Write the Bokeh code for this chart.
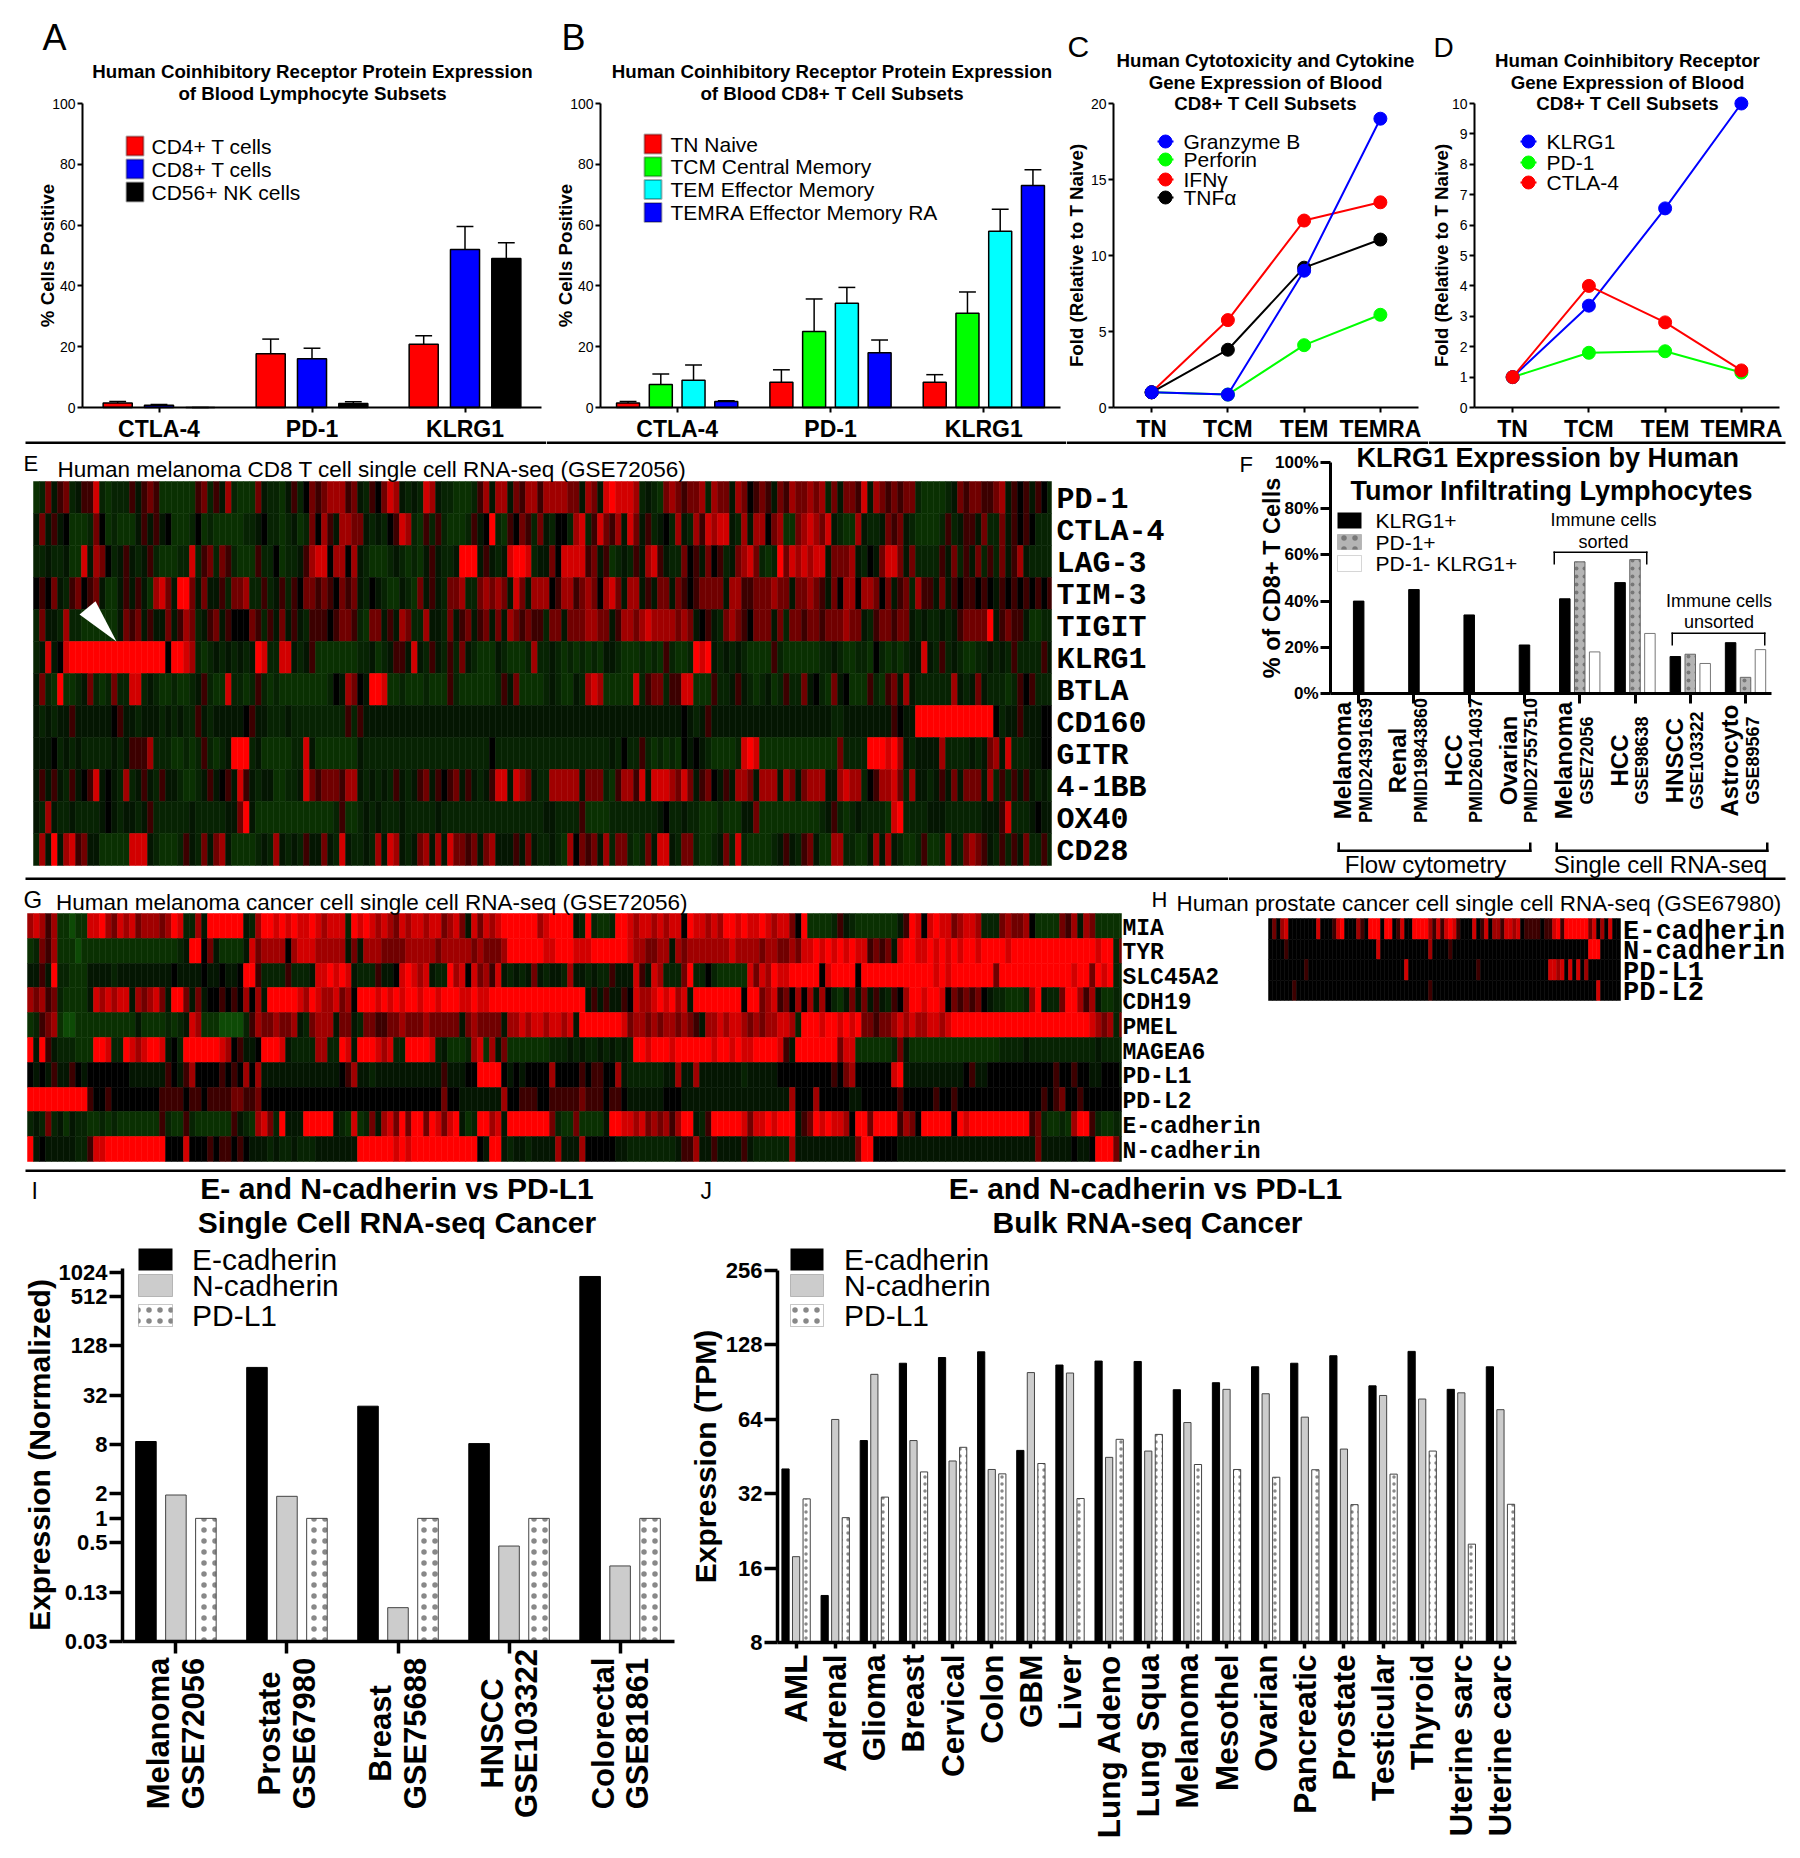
import math
from bokeh.embed import file_html
from bokeh.resources import INLINE
from bokeh.layouts import column, row
from bokeh.models import Range1d, FixedTicker, Label, BoxAnnotation
from bokeh.plotting import figure

# ---------- panel A ----------
a_groups = ["CTLA-4", "PD-1", "KLRG1"]
a_series = ["CD4+ T cells", "CD8+ T cells", "CD56+ NK cells"]
a_colors = ["#ff0000", "#0000ff", "#000000"]
a_values = [[1.5, 17.7, 20.8], [0.7, 16.0, 52.0], [0.0, 1.3, 49.0]]
a_errors = [[2.0, 22.5, 23.6], [1.0, 19.5, 59.5], [0.0, 1.9, 54.2]]
# ---------- panel B ----------
b_series = ["TN Naive", "TCM Central Memory", "TEM Effector Memory", "TEMRA Effector Memory RA"]
b_colors = ["#ff0000", "#00ff00", "#00ffff", "#0000ff"]
b_values = [[1.5, 8.3, 8.3], [7.6, 25.0, 31.0], [9.0, 34.3, 58.0], [2.0, 18.0, 73.0]]
b_errors = [[2.0, 12.4, 10.8], [11.0, 35.7, 38.0], [14.0, 39.5, 65.2], [2.2, 22.2, 78.2]]
# ---------- panels C, D ----------
subset_labels = ["TN", "TCM", "TEM", "TEMRA"]
c_granzyme = [1.0, 0.85, 9.0, 19.0]
c_perforin = [1.0, 0.85, 4.1, 6.1]
c_ifng = [1.0, 5.75, 12.3, 13.5]
c_tnfa = [1.0, 3.8, 9.2, 11.05]
d_klrg1 = [1.0, 3.35, 6.55, 10.0]
d_pd1 = [1.0, 1.8, 1.85, 1.15]
d_ctla4 = [1.0, 4.0, 2.8, 1.22]
# ---------- panel F ----------
f_main = ["Melanoma", "Renal", "HCC", "Ovarian", "Melanoma", "HCC", "HNSCC", "Astrocyto"]
f_sub = ["PMID24391639", "PMID19843860", "PMID26014037", "PMID27557510", "GSE72056", "GSE98638", "GSE103322", "GSE89567"]
f_flow_klrg1 = [40, 45, 34, 21]
f_rna_klrg1 = [41, 48, 16, 22]
f_rna_pd1 = [57, 58, 17, 7]
f_rna_neg = [18, 26, 13, 19]
# ---------- panel I ----------
i_main = ["Melanoma", "Prostate", "Breast", "HNSCC", "Colorectal"]
i_sub = ["GSE72056", "GSE67980", "GSE75688", "GSE103322", "GSE81861"]
i_ecad = [8.7, 70.0, 23.5, 8.2, 905.0]
i_ncad = [1.93, 1.86, 0.081, 0.459, 0.262]
i_pdl1 = [1.0, 1.0, 1.0, 1.0, 1.0]
i_ticks = [0.03125, 0.125, 0.5, 1, 2, 8, 32, 128, 512, 1024]
i_ticklabels = ["0.03", "0.13", "0.5", "1", "2", "8", "32", "128", "512", "1024"]
# ---------- panel J ----------
j_cats = ["AML", "Adrenal", "Glioma", "Breast", "Cervical", "Colon", "GBM", "Liver", "Lung Adeno", "Lung Squa",
          "Melanoma", "Mesothel", "Ovarian", "Pancreatic", "Prostate", "Testicular", "Thyroid", "Uterine sarc", "Uterine carc"]
j_ecad = [40.3, 12.4, 52.5, 107.9, 113.8, 120.0, 47.9, 106.1, 110.1, 109.7, 84.3, 90.0, 104.4, 107.9, 115.7, 87.4, 120.5, 84.6, 104.4]
j_ncad = [17.8, 63.9, 97.3, 52.5, 43.4, 40.1, 98.9, 98.5, 44.9, 47.6, 62.1, 84.6, 81.2, 65.3, 48.5, 79.9, 77.3, 81.9, 70.0]
j_pdl1 = [30.5, 25.6, 31.0, 39.2, 49.3, 38.5, 42.4, 30.6, 53.1, 55.6, 42.0, 40.1, 37.3, 40.0, 28.9, 38.4, 47.6, 20.0, 29.0]
j_ticks = [8, 16, 32, 64, 128, 256]
# ---------- heat maps: one digit per cell, 0 green ... 4 black ... 9 red ----------
heat_levels = ["#0e4a06", "#0a3002", "#072303", "#041602", "#000000", "#3c0000", "#700000", "#a00000", "#d20000", "#ff0000"]
e_labels = ["PD-1", "CTLA-4", "LAG-3", "TIM-3", "TIGIT", "KLRG1", "BTLA", "CD160", "GITR", "4-1BB", "OX40", "CD28"]
e_rows = [
 "1263562355 8212225356 5111111562 5372111632 2135246567 7756325468 7323287322 1112573773 6577577776 6376389888 7232167656 6727663764 5653657667 6726366583 7656566211 1123656655 6735453542",
 "3635341112 6412111353 5341112412 1111122342 2123126475 3776632324 5872152521 1125349215 4652632442 7825865738 6352342732 7587883273 7746711678 7683211732 2365632111 1252355362 2635454222",
 "2232231183 7642353235 2111228256 2652111522 4122357884 7747321112 3212135322 3999353238 9982336488 8856351232 5378532264 5364523678 6212968787 8836667324 3688636222 2536253625 2635732222",
 "4546325645 6311353531 7863996363 3526672252 3525466565 4656324321 1321635326 6722676763 8637774577 5676478637 7353663654 5666637755 6667663667 6536477477 6463562755 3635455454 3545454545",
 "2633272211 1111365635 3363576235 6354446525 3635325554 5665216635 3762273326 3563563637 6565526636 6677663577 6787777676 3453267654 6663626656 6566676632 5665663232 2323566669 3565531122",
 "2383489999 9999999999 9949987212 3232323982 2883235111 1111223123 5538325325 2632111321 1127223212 1212133211 1212152112 9893232321 1115211111 1223211221 4212123383 2523211223 2325222253",
 "3621911236 2126228823 2112112352 1182212521 2111111112 4376439981 1211121115 2111111253 6111123211 3278711111 8256625588 1115223532 1231252263 4216341115 2156373222 2227323632 2212545222",
 "3232335333 3334533233 3232322532 3333345332 2232222222 2252533333 3333333333 3333333333 3333333333 3333333333 3333333343 2353333333 3333333333 3332233333 3335433999 9999999999 4233533344",
 "3334232322 2223235557 2221121252 1239992311 1112283111 1111322222 2222222222 2222224222 2222222222 2222223242 2521212143 4321111289 8111111111 1111622229 9989732333 3722223236 7382223344",
 "3535325345 8343272353 2533211235 3453853233 1122386566 6577323232 5323563545 6353235883 8763227777 7366621577 5838887686 3564353776 3777376367 7733787724 5778627332 3536366637 2525353232",
 "3273223222 2343233235 2222223222 2233693111 1111111111 2511232322 2322222322 2222222222 2222233222 2511112222 2222342232 2111211133 6111111111 1235212322 2218922223 3322222233 3582223433",
 "2739378563 3111118883 2111253263 6731111232 7323253363 2832232738 7323673738 6656367333 5363223217 4656372662 1263883266 2112362821 1112353256 3117722113 7373211251 1273267653 2525362252",
]
g_labels = ["MIA", "TYR", "SLC45A2", "CDH19", "PMEL", "MAGEA6", "PD-L1", "PD-L2", "E-cadherin", "N-cadherin"]
g_rows = [
 "7875711011 8897687867 7767982273 9999993279 9898988987 8882989878 7687887886 7863868789 9999978999 9329211299 8788787884 9887879989 8898788649 1111253211 1111135984 8988678872 2267667411 1165737611 111",
 "1265711101 1111111111 1111123994 6311113867 7774788877 7773637776 6667777767 7777676667 9999998899 9888999999 8776677376 7777777877 7767766768 8989898988 5656389988 9898989989 9998999999 9999999989 926",
 "3353922111 3333233333 3333433334 3343349952 2225222388 9898322253 3489878322 9784867583 2323632332 7332322533 3853872226 9224211111 8687988999 9948999949 9999999999 9898999999 9699999999 9999899698 922",
 "7675621111 3878788376 7863996363 4454547473 9999987987 7867499989 8989989989 9988988999 9999999999 9993535335 4877898978 3999999994 9967856474 7374213636 3532547998 9984656564 3221112793 2269975731 122",
 "1256710011 1111111131 1112123871 1100002576 6766732677 7366326655 6676667666 6636766663 7787887887 8399999998 6776767767 6537787887 6767788729 9989989896 6566787877 8878999999 9999999999 9999999876 726",
 "9395322211 1998229878 9983429999 9987453349 9983222277 2298399987 8229999823 1112781736 1111111222 3232232323 2998999899 9999899898 8999985399 9999968811 1111263111 1111111111 1122223222 2222222232 222",
 "4343533543 4444444333 3335435744 4454547473 3333333333 3345733233 3333333335 3334499994 3434444744 4454554473 2222223373 3733333332 3333344444 4444546744 4444893333 3333334533 4444444444 4544544334 443",
 "9999999999 5445444444 4455554554 5555665564 4444444444 4444444444 4444444446 4433333337 4455544555 5565554554 3333334443 3333333333 3333333744 4744444334 4444454444 4544544444 4444444445 4564454444 444",
 "2326231322 1121211111 1152115211 1111532178 6293339999 9321812637 8696996986 8931299783 9999999621 1611113998 8786767579 9325999998 6889899935 6989887499 6999957649 9999498999 9999999562 1121799521 122",
 "9343333322 5889999999 9994448444 5455454333 2322322233 3333399999 9898999999 9999943993 2332333373 3374444433 2222222235 5733533335 3222222733 3333333369 9444433333 3333333333 3333333363 3333433499 963",
]
h_labels = ["E-cadherin", "N-cadherin", "PD-L1", "PD-L2"]
h_rows = [
 "46478444 44448444 58944475 49994994 58449999 75858985 44484584 77588784 55554558 95999999 68474844",
 "44445444 44444444 44444444 44484444 44444444 74444544 44444444 44444444 44444444 44444444 99944444",
 "44444444 45444444 44444444 44444444 44844444 44444444 44445444 44444444 44444488 78484847 44444444",
 "44444454 44444444 44444444 44444444 44444444 54444444 44444444 44444444 44444444 44444444 44844444",
]

FONT = "Liberation Sans"
MONO = "Liberation Mono"
RULE_X0, RULE_X1 = 25, 1785


class Panel:
    """A figure whose frame fills its whole canvas; axes sit at fixed data locations inside."""

    def __init__(self, X0, Y0, X1, Y1, fl=None, fr=None, ft=None, fb=None, xr=None, yr=None, log=False, rule=None):
        self.X0, self.X1 = X0, X1
        self.fl, self.fr = (X0 if fl is None else fl), (X1 if fr is None else fr)
        self.ft, self.fb = (Y0 if ft is None else ft), (Y1 if fb is None else fb)
        self.xr = xr or (X0, X1)
        self.yr = yr or (Y1, Y0)
        self.log = log
        kw = {}
        if fl is None:
            kw = dict(x_axis_type=None, y_axis_type=None)
        elif log:
            kw = dict(y_axis_type="log")
        self.p = figure(width=X1 - X0, height=Y1 - Y0, x_range=Range1d(self.dx(X0), self.dx(X1)),
                        y_range=Range1d(self.dy(Y1), self.dy(Y0)), min_border=0, frame_align=False,
                        toolbar_location=None, output_backend="svg", **kw)
        self.p.outline_line_color = None
        self.p.background_fill_color = "white"
        if fl is not None:
            self.p.grid.visible = False
        if rule:
            self.box(max(X0, RULE_X0), rule, min(X1, RULE_X1), rule + 3)

    def dx(self, X):
        return self.xr[0] + (X - self.fl) / (self.fr - self.fl) * (self.xr[1] - self.xr[0])

    def dy(self, Y):
        t = (self.fb - Y) / (self.fb - self.ft)
        if self.log:
            a, b = math.log2(self.yr[0]), math.log2(self.yr[1])
            return 2 ** (a + t * (b - a))
        return self.yr[0] + t * (self.yr[1] - self.yr[0])

    def text(self, X, Y, s, size, bold=False, align="left", angle=0, font=FONT, color="#000000", data_x=None):
        self.p.add_layout(Label(x=self.dx(X) if data_x is None else data_x, y=self.dy(Y), text=s, text_font=font,
                                text_font_size=f"{size}px", text_font_style="bold" if bold else "normal",
                                text_align=align, text_baseline="middle", angle=angle, text_color=color))

    def box(self, X0, Y0, X1, Y1, fill="#000000", line=None, lw=1, hatch=None, hatch_color="#888888"):
        kw = dict(left=self.dx(X0), right=self.dx(X1), bottom=self.dy(Y1), top=self.dy(Y0),
                  fill_color=fill, fill_alpha=1, line_color=line, line_width=lw, level="overlay")
        if hatch:
            kw.update(hatch_pattern=hatch, hatch_color=hatch_color, hatch_scale=11, hatch_weight=1.2)
        self.p.add_layout(BoxAnnotation(**kw))

    def axes(self, xlabels, yticks, ylabel, ylsize, tick_bold=False, tick_size=14, xsize=23, lw=2, out=5,
             standoff=1, yticklabels=None, x_orient=None, x_out=None, x_standoff=3, x_left=None):
        p = self.p
        xa, ya = p.xaxis[0], p.yaxis[0]
        xa.fixed_location = self.yr[0]
        ya.fixed_location = self.xr[0]
        xa.bounds = (self.dx(self.fl if x_left is None else x_left), self.xr[1])
        ya.bounds = (self.yr[0], self.yr[1])
        xa.ticker = FixedTicker(ticks=list(range(len(xlabels))))
        xa.major_label_overrides = {i: s for i, s in enumerate(xlabels)}
        ya.ticker = FixedTicker(ticks=list(yticks))
        if yticklabels:
            ya.major_label_overrides = {t: s for t, s in zip(yticks, yticklabels)}
        for ax in (xa, ya):
            ax.axis_line_width = lw
            ax.axis_line_color = "#000000"
            ax.major_tick_line_width = lw
            ax.major_tick_line_color = "#000000"
            ax.minor_tick_line_color = None
            ax.major_tick_in = 0
            ax.major_tick_out = out
            ax.major_label_text_color = "#000000"
            ax.major_label_text_font = FONT
        xa.major_tick_out = x_out or out
        xa.major_label_text_font_size = f"{xsize}px"
        xa.major_label_text_font_style = "bold"
        xa.major_label_standoff = x_standoff
        ya.major_label_text_font_size = f"{tick_size}px"
        ya.major_label_text_font_style = "bold" if tick_bold else "normal"
        ya.major_label_standoff = 2
        ya.axis_label = ylabel
        ya.axis_label_text_font = FONT
        ya.axis_label_text_font_style = "bold"
        ya.axis_label_text_font_size = f"{ylsize}px"
        ya.axis_label_text_color = "#000000"
        ya.axis_label_standoff = standoff
        if x_orient:
            xa.major_label_orientation = x_orient


def grouped(P, n, values, errors, colors, step, width, cap):
    k = len(values)
    for s, (vals, errs, col) in enumerate(zip(values, errors, colors)):
        xs = [g + (s - (k - 1) / 2) * step for g in range(n)]
        P.p.segment(xs, vals, xs, errs, line_color="#000000", line_width=1.5)
        P.p.segment([x - cap for x in xs], errs, [x + cap for x in xs], errs, line_color="#000000", line_width=1.5)
        P.p.vbar(x=xs, top=vals, width=width, bottom=0, fill_color=col, line_color="#000000", line_width=1.5)


def legend_boxes(P, X0, X1, tx, rows, size):
    for (y0, y1, label, kw) in rows:
        P.box(X0, y0, X1, y1, **kw)
        P.text(tx, (y0 + y1) / 2, label, size)


TITLE = 18.7
# ======= row 1 =======
A = Panel(0, 0, 546, 444, 82, 541, 103, 407, (-0.5, 2.5), (0, 100), rule=441)
grouped(A, 3, a_values, a_errors, a_colors, 0.27, 0.19, 0.055)
A.axes(a_groups, range(0, 101, 20), "% Cells Positive", 18.7, standoff=-9)
A.text(42, 37, "A", 36)
A.text(312, 71, "Human Coinhibitory Receptor Protein Expression", TITLE, True, "center")
A.text(312, 93, "of Blood Lymphocyte Subsets", TITLE, True, "center")
legend_boxes(A, 126, 143, 151, [(136 + 23 * i, 155 + 23 * i, s, dict(fill=c, line="#000000", lw=2))
                                for i, (s, c) in enumerate(zip(a_series, a_colors))], 21)

B = Panel(546, 0, 1066, 444, 600, 1060, 103, 407, (-0.5, 2.5), (0, 100), rule=441)
grouped(B, 3, b_values, b_errors, b_colors, 0.2135, 0.15, 0.055)
B.axes(a_groups, range(0, 101, 20), "% Cells Positive", 18.7, standoff=-9)
B.text(561, 37, "B", 36)
B.text(831.5, 71, "Human Coinhibitory Receptor Protein Expression", TITLE, True, "center")
B.text(831.5, 93, "of Blood CD8+ T Cell Subsets", TITLE, True, "center")
legend_boxes(B, 644, 661, 670, [(134 + 22.8 * i, 153 + 22.8 * i, s, dict(fill=c, line="#000000", lw=2))
                                for i, (s, c) in enumerate(zip(b_series, b_colors))], 21)

C = Panel(1066, 0, 1428, 444, 1113, 1418, 103, 407, (-0.5, 3.5), (0, 20), rule=441)
for vals, col in [(c_perforin, "#00ff00"), (c_ifng, "#ff0000"), (c_tnfa, "#000000"), (c_granzyme, "#0000ff")]:
    C.p.line(list(range(4)), vals, line_color=col, line_width=2)
    C.p.scatter(list(range(4)), vals, size=13, fill_color=col, line_color=col)
C.axes(subset_labels, range(0, 21, 5), "Fold (Relative to T Naive)", 18.7)
C.text(1067, 46, "C", 30)
for y, s in zip((60, 82, 103), ("Human Cytotoxicity and Cytokine", "Gene Expression of Blood", "CD8+ T Cell Subsets")):
    C.text(1265, y, s, TITLE, True, "center")
for y, s, col in zip((141, 159, 179, 197), ("Granzyme B", "Perforin", "IFNγ", "TNFα"), ("#0000ff", "#00ff00", "#ff0000", "#000000")):
    C.p.segment([C.dx(1157)], [C.dy(y)], [C.dx(1173)], [C.dy(y)], line_color=col, line_width=2)
    C.p.scatter([C.dx(1165)], [C.dy(y)], size=13, fill_color=col, line_color=col)
    C.text(1183, y, s, 21)

D = Panel(1428, 0, 1792, 444, 1474, 1779, 103, 407, (-0.5, 3.5), (0, 10), rule=441)
for vals, col in [(d_pd1, "#00ff00"), (d_klrg1, "#0000ff"), (d_ctla4, "#ff0000")]:
    D.p.line(list(range(4)), vals, line_color=col, line_width=2)
    D.p.scatter(list(range(4)), vals, size=13, fill_color=col, line_color=col)
D.axes(subset_labels, range(0, 11), "Fold (Relative to T Naive)", 18.7, standoff=-3)
D.text(1433, 47, "D", 28)
for y, s in zip((60, 82, 103), ("Human Coinhibitory Receptor", "Gene Expression of Blood", "CD8+ T Cell Subsets")):
    D.text(1627, y, s, TITLE, True, "center")
for y, s, col in zip((141, 162, 182), ("KLRG1", "PD-1", "CTLA-4"), ("#0000ff", "#00ff00", "#ff0000")):
    D.p.segment([D.dx(1520)], [D.dy(y)], [D.dx(1536)], [D.dy(y)], line_color=col, line_width=2)
    D.p.scatter([D.dx(1528)], [D.dy(y)], size=13, fill_color=col, line_color=col)
    D.text(1546, y, s, 21)


# ======= heat map helper =======
def heat(P, rows, X0, X1, Y0, rh, bw):
    left, right, top, bottom, color = [], [], [], [], []
    for r, s in enumerate(rows):
        s = s.replace(" ", "")
        y0, y1 = round(Y0 + r * rh), round(Y0 + (r + 1) * rh)
        for i, ch in enumerate(s):
            x0 = X0 + i * bw
            if x0 >= X1:
                break
            left.append(x0)
            right.append(min(x0 + bw, X1))
            top.append(y0)
            bottom.append(y1)
            color.append(heat_levels[int(ch)])
    P.p.quad(left=left, right=right, top=top, bottom=bottom, fill_color=color, line_color=color, line_width=0.5)


# ======= row 2 =======
E = Panel(0, 444, 1228, 880, rule=877)
heat(E, e_rows, 33, 1051, 481, 32, 6)
E.p.patch([95, 79, 116], [600.7, 614, 641], fill_color="#ffffff", line_color=None)
for i, s in enumerate(e_labels):
    E.text(1056, 499 + 32 * i, s, 30, True, font=MONO)
E.text(23, 463, "E", 22)
E.text(57, 469, "Human melanoma CD8 T cell single cell RNA-seq (GSE72056)", 22.5)

F = Panel(1228, 444, 1792, 880, 1330, 1771, 462, 693, (-0.51, 7.47), (0, 100), rule=877)
xf_flow = [0, 1, 2, 3]
xf_rna = [4, 5, 6, 7]
off = 0.27
F.p.vbar(x=xf_flow, top=f_flow_klrg1, width=0.19, bottom=0, fill_color="#000000", line_color="#000000")
F.p.vbar(x=[x - off for x in xf_rna], top=f_rna_klrg1, width=0.19, bottom=0, fill_color="#000000", line_color="#000000")
F.p.vbar(x=xf_rna, top=f_rna_pd1, width=0.19, bottom=0, fill_color="#b4b4b4", line_color="#666666",
         hatch_pattern="dot", hatch_color="#777777", hatch_scale=8, hatch_weight=1.2)
F.p.vbar(x=[x + off for x in xf_rna], top=f_rna_neg, width=0.19, bottom=0, fill_color="#ffffff", line_color="#777777")
F.axes([""] * 8, range(0, 101, 20), "% of CD8+ T Cells", 23.5, tick_bold=True, tick_size=17, lw=3, out=10, standoff=-13,
       yticklabels=[f"{v}%" for v in range(0, 101, 20)])
F.text(1239, 464, "F", 22)
F.text(1551, 457, "KLRG1  Expression by Human", 27, True, "center")
F.text(1551, 490, "Tumor Infiltrating Lymphocytes", 27, True, "center")
legend_boxes(F, 1337, 1361, 1375, [(512, 528, "KLRG1+", dict(fill="#000000")),
                                   (534, 549, "PD-1+", dict(fill="#b4b4b4", line="#666666", hatch="dot", hatch_color="#777777")),
                                   (555, 571, "PD-1- KLRG1+", dict(fill="#ffffff", line="#777777"))], 21)
for x, y, s in [(1603, 519, "Immune cells"), (1603, 541, "sorted"), (1718.5, 600, "Immune cells"), (1718.5, 621, "unsorted")]:
    F.text(x, y, s, 18, align="center")
for x0, x1, y0, y1 in [(1553, 1647, 551, 564), (1671, 1765, 632, 645)]:
    F.box(x0, y0, x1, y0 + 1.5)
    F.box(x0, y0, x0 + 1.5, y1)
    F.box(x1 - 1.5, y0, x1, y1)
for x0, x1, s, cx in [(1337, 1531, "Flow cytometry", 1425), (1555, 1768, "Single cell RNA-seq", 1660)]:
    F.box(x0, 849, x1, 851.5)
    F.box(x0, 842, x0 + 2.5, 851.5)
    F.box(x1 - 2.5, 842, x1, 851.5)
    F.text(cx, 864, s, 24, align="center")
for i, (m, s) in enumerate(zip(f_main, f_sub)):
    F.text(0, 760, m, 24, True, "center", math.pi / 2, data_x=i - 16 / 55.3)
    F.text(0, 760, s, 18, True, "center", math.pi / 2, data_x=i + 7 / 55.3)

# ======= row 3 =======
G = Panel(0, 880, 1792, 1172, rule=1169)
heat(G, g_rows, 27, 1121, 913, 24.8, 6)
for i, s in enumerate(g_labels):
    G.text(1122, 928 + 24.8 * i, s, 23, True, font=MONO)
G.text(23, 899, "G", 24)
G.text(55.5, 902, "Human melanoma cancer cell single cell RNA-seq (GSE72056)", 22.5)
heat(G, h_rows, 1268, 1620, 918, 20.6, 4)
for i, s in enumerate(h_labels):
    G.text(1622.5, 931 + 20.6 * i, s, 27, True, font=MONO)
G.text(1151, 899, "H", 22)
G.text(1176, 903, "Human prostate cancer cell single cell RNA-seq (GSE67980)", 22.4)

# ======= row 4 =======
I = Panel(0, 1172, 690, 1850, 122, 674, 1268, 1641, (-0.481, 4.49), (1 / 32, 1133), log=True)
bottom_i = 1 / 32
xs = list(range(5))
I.p.vbar(x=[x - off for x in xs], top=i_ecad, width=0.185, bottom=bottom_i, fill_color="#000000", line_color="#000000")
I.p.vbar(x=xs, top=i_ncad, width=0.185, bottom=bottom_i, fill_color="#cccccc", line_color="#444444")
I.p.vbar(x=[x + off for x in xs], top=i_pdl1, width=0.185, bottom=bottom_i, fill_color="#ffffff", line_color="#444444",
         hatch_pattern="dot", hatch_color="#888888", hatch_scale=11, hatch_weight=1)
I.axes([""] * 5, i_ticks, "Expression (Normalized)", 30, tick_bold=True, tick_size=22, lw=3.5, out=13, standoff=0,
       yticklabels=i_ticklabels, x_out=12)
I.text(31, 1190, "I", 23)
I.text(396.5, 1188, "E- and N-cadherin vs PD-L1", 30, True, "center")
I.text(396.5, 1222, "Single Cell RNA-seq Cancer", 30, True, "center")
legend_boxes(I, 138, 172, 191.5, [(1248, 1270, "E-cadherin", dict(fill="#000000")),
                                  (1274, 1296, "N-cadherin", dict(fill="#cccccc", line="#444444")),
                                  (1304, 1326, "PD-L1", dict(fill="#ffffff", line="#444444", hatch="dot"))], 30)
for i, (m, s) in enumerate(zip(i_main, i_sub)):
    I.text(0, 1733, m, 31, True, "center", math.pi / 2, data_x=i - 17 / 111)
    I.text(0, 1733, s, 31, True, "center", math.pi / 2, data_x=i + 17.5 / 111)

J = Panel(690, 1172, 1792, 1850, 777, 1516, 1270, 1642, (-0.475, 18.41), (8, 256), log=True)
xs = list(range(19))
J.p.vbar(x=[x - off for x in xs], top=j_ecad, width=0.184, bottom=8, fill_color="#000000", line_color="#000000")
J.p.vbar(x=xs, top=j_ncad, width=0.184, bottom=8, fill_color="#cccccc", line_color="#444444")
J.p.vbar(x=[x + off for x in xs], top=j_pdl1, width=0.184, bottom=8, fill_color="#ffffff", line_color="#444444",
         hatch_pattern="dot", hatch_color="#888888", hatch_scale=7, hatch_weight=1)
J.axes(j_cats, j_ticks, "Expression (TPM)", 30, tick_bold=True, tick_size=22, lw=3.5, out=13, standoff=1,
       yticklabels=[str(v) for v in j_ticks], x_orient=math.pi / 2, xsize=31.5, x_out=6, x_standoff=6)
J.text(700, 1190, "J", 23)
J.text(1145, 1188, "E- and N-cadherin vs PD-L1", 30, True, "center")
J.text(1147, 1222, "Bulk RNA-seq Cancer", 30, True, "center")
legend_boxes(J, 790, 823, 843.5, [(1248, 1270, "E-cadherin", dict(fill="#000000")),
                                  (1274, 1296, "N-cadherin", dict(fill="#cccccc", line="#444444")),
                                  (1304, 1326, "PD-L1", dict(fill="#ffffff", line="#444444", hatch="dot"))], 30)

layout = column(row(A.p, B.p, C.p, D.p), row(E.p, F.p), G.p, row(I.p, J.p))
open("out.html", "w").write(file_html(layout, INLINE))
